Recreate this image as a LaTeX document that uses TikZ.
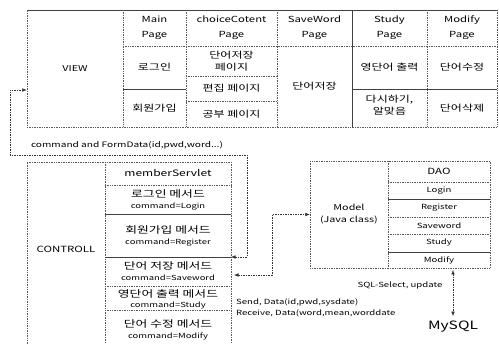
\documentclass[tikz,border=0pt]{standalone}
\usepackage{fontspec}
\setmainfont[FakeStretch=1.35]{Noto Sans CJK KR}
\usetikzlibrary{positioning, calc}
\usetikzlibrary{arrows.meta}

\begin{document}
\begin{tikzpicture}[x=1pt,y=-1pt,
    txt/.style={align=center,inner sep=0pt,font=\fontsize{8.4}{15}\selectfont},
    kor/.style={align=center,inner sep=0pt,font=\fontsize{8.9}{12}\selectfont},
    cmd/.style={align=center,inner sep=0pt,font=\fontsize{9.5}{11}\selectfont},
    lbl/.style={inner sep=0pt,font=\fontsize{7.1}{10.5}\selectfont},
    big/.style={inner sep=0pt,font=\fontsize{8.5}{11}\selectfont},
    dotl/.style={densely dotted,line width=0.7pt,black!65},
    soll/.style={line width=0.5pt,black!75},
    link/.style={dash pattern=on 1.6pt off 0.9pt,line width=0.6pt,black!80,{Latex[length=4.5pt,width=3.6pt]}-{Latex[length=4.5pt,width=3.6pt]}}]
\newcommand\cmdline[1]{{\fontsize{7}{8}\selectfont #1}}
\useasboundingbox (0,0) rectangle (499,344);

% VIEW
\draw[soll] (27,10) -- (497,10);
\draw[dotl] (497,10) -- (497,127) -- (27,127) -- (27,10);
\draw[dotl] (123,10) -- (123,127)  (186,10) -- (186,127)  (277,10) -- (277,127)  (427,10) -- (427,127);
\draw[soll] (352,10) -- (352,127);
\draw[dotl] (123,46) -- (497,46)  (186,76) -- (277,76)  (186,101) -- (277,101);
\draw[soll] (123,89) -- (186,89)  (352,89) -- (497,89);
%\draw[dotl] (277,89) -- (352,89);

\node[big,font=\fontsize{8}{11}\selectfont,minimum width=96,minimum height=117] (view) at (75,68.5) {VIEW};
\node[txt] (pmain) at (154.5,28) {Main\\Page};
\node[txt] (pchoice) at (231.5,28) {choiceCotent\\Page};
\node[txt] (psave) at (314.5,28) {SaveWord\\Page};
\node[txt] (pstudy) at (389.5,28) {Study\\Page};
\node[txt] (pmodify) at (462,28) {Modify\\Page};
\node[kor] (login) at (154.5,67.5) {로그인};
\node[kor] (join) at (154.5,108) {회원가입};
\node[kor] (wsave) at (231.5,61) {단어저장\\페이지};
\node[kor] (wedit) at (231.5,88.5) {편집 페이지};
\node[kor] (wstudy) at (231.5,114) {공부 페이지};
\node[kor] (save) at (314.5,86.5) {단어저장};
\node[kor] (print) at (389.5,67.5) {영단어 출력};
\node[kor] (retry) at (389.5,105) {다시하기,\\알맞음};
\node[kor] (edit) at (462,67.5) {단어수정};
\node[kor] (del) at (462,108) {단어삭제};

% CONTROLL
\draw[dotl] (27,344) -- (27,162) -- (231,162) -- (231,344)  (105,162) -- (105,344);
\draw[dotl] (105,185) -- (231,185)  (105,286) -- (231,286)  (105,310) -- (231,310);
\draw[soll] (105,214) -- (231,214)  (105,257) -- (231,257);

\node[big] (ctl) at (66,249) {CONTROLL};
\node[big,font=\fontsize{8.9}{11}\selectfont] (servlet) at (168,173.5) {memberServlet};
\node[cmd] (mlogin) at (168,199.5) {로그인 메서드\\\cmdline{command=Login}};
\node[cmd] (mjoin) at (168,235.5) {회원가입 메서드\\\cmdline{command=Register}};
\node[cmd] (msave) at (168,271.5) {단어 저장 메서드\\\cmdline{command=Saveword}};
\node[cmd,font=\fontsize{9.5}{10}\selectfont] (mstudy) at (168,299.5) {영단어 출력 메서드\\\cmdline{command=Study}};
\node[cmd] (mmodify) at (168,330) {단어 수정 메서드\\\cmdline{command=Modify}};

% Model
\draw[dotl] (310,161) rectangle (490,268)  (388,161) -- (388,268);
\draw[dotl] (388,182) -- (490,182)  (388,217) -- (490,217)  (388,234) -- (490,234);
\draw[soll] (388,199) -- (490,199)  (388,252) -- (490,252);

\node[txt,font=\fontsize{8}{12}\selectfont,minimum width=78,minimum height=107] (model) at (349,214.5) {Model\\(Java class)};
\node[big] (dao) at (439,171.5) {DAO};
\node[lbl] (dlogin) at (439,190.5) {Login};
\node[lbl] (dreg) at (439,208) {Register};
\node[lbl] (dsave) at (439,225.5) {Saveword};
\node[lbl] (dstudy) at (439,243) {Study};
\node[lbl] (dmodify) at (439,260) {Modify};

\node[inner sep=0pt,font=\fontsize{11.5}{14}\selectfont] (mysql) at (453,327) {MySQL};
\node[lbl] (sql) at (400,285) {SQL-Select, update};
\node[lbl,anchor=west,align=left] (data) at (236,308) {Send, Data(id,pwd,sysdate)\\Receive, Data(word,mean,worddate};
\node[lbl,font=\fontsize{7.5}{9}\selectfont] (form) at (127,145) {command and FormData(id,pwd,word...)};

% connectors
\coordinate (c1) at (231,257);
\coordinate (fwd) at (247,155);
\coordinate (back) at (10,90);
\coordinate (c2) at (234,275);
\coordinate (bend) at (272,275);
\coordinate (dbtop) at (453,270);
\draw[link] (c1) -| (fwd) -| (back) -- (back -| view.west);
\draw[link] (c2) -- (bend) |- (model.west);
\draw[link] (dbtop) -- ($(dbtop |- mysql.north)+(0,-5)$);
\end{tikzpicture}
\end{document}
